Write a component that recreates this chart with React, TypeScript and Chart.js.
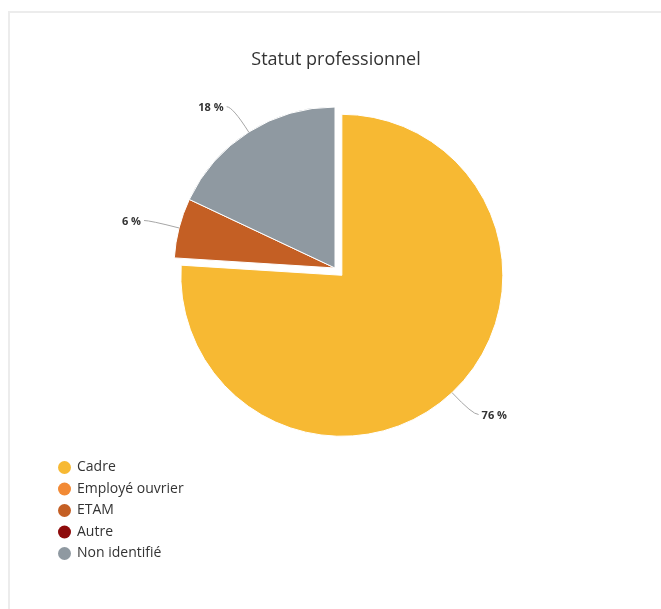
import { useEffect, useRef } from 'react';
import { Chart, registerables } from 'chart.js';

Chart.register(...registerables);

const TITLE = 'Statut professionnel';
const categories = ['Cadre', 'Employé ouvrier', 'ETAM', 'Autre', 'Non identifié'];
const shares = [76, 0, 6, 0, 18];
const sliceColors = ['#F7B933', '#F28A35', '#C45F24', '#8E0B0B', '#8F99A1'];
const slicedOut = [true, false, false, false, false];

const FONT = '"Open Sans", "Noto Sans", sans-serif';
const SLICE_SHIFT = 10;
const LABEL_DISTANCE = 30;
const PIE_RADIUS = 161;

const piePlugin = {
  id: 'hcPie',
  afterUpdate(chart: any) {
    const meta = chart.getDatasetMeta(0);
    meta.data.forEach((el: any, i: number) => {
      if (!slicedOut[i] || el.__shifted) return;
      const orig = el.draw.bind(el);
      el.draw = (ctx: CanvasRenderingContext2D, area: any) => {
        const mid = (el.startAngle + el.endAngle) / 2;
        ctx.save();
        ctx.translate(Math.cos(mid) * SLICE_SHIFT, Math.sin(mid) * SLICE_SHIFT);
        orig(ctx, area);
        ctx.restore();
      };
      el.__shifted = true;
    });
  },
  afterDraw(chart: any) {
    const ctx: CanvasRenderingContext2D = chart.ctx;
    ctx.save();

    // Title
    ctx.fillStyle = '#333333';
    ctx.font = `18px ${FONT}`;
    ctx.textAlign = 'center';
    ctx.textBaseline = 'middle';
    ctx.fillText(TITLE, 336, 60);

    // Data labels with connectors
    const meta = chart.getDatasetMeta(0);
    meta.data.forEach((el: any, i: number) => {
      const v = shares[i];
      if (!v) return;
      const mid = (el.startAngle + el.endAngle) / 2;
      const dx = Math.cos(mid);
      const dy = Math.sin(mid);
      const shift = slicedOut[i] ? SLICE_SHIFT : 0;
      const cx = el.x + dx * shift;
      const cy = el.y + dy * shift;
      const r = el.outerRadius;
      const ex = cx + dx * r;
      const ey = cy + dy * r;
      const ax = cx + dx * (r + LABEL_DISTANCE);
      const ay = cy + dy * (r + LABEL_DISTANCE);
      const left = dx < 0;
      const endX = left ? ax - 6 : ax + 6;
      ctx.strokeStyle = '#a6a6a6';
      ctx.lineWidth = 1;
      ctx.beginPath();
      ctx.moveTo(ex, ey);
      ctx.quadraticCurveTo(ax, ay, endX, ay);
      ctx.stroke();
      ctx.fillStyle = '#333333';
      ctx.font = `bold 11px ${FONT}`;
      ctx.textAlign = left ? 'right' : 'left';
      ctx.textBaseline = 'middle';
      ctx.fillText(`${v} %`, left ? endX - 3 : endX + 3, ay + 1);
    });

    // Legend
    const startY = 467.5;
    const step = 21.5;
    categories.forEach((name, i) => {
      const y = startY + i * step;
      ctx.fillStyle = sliceColors[i];
      ctx.beginPath();
      ctx.arc(64.5, y, 6.5, 0, Math.PI * 2);
      ctx.fill();
      ctx.fillStyle = '#333333';
      ctx.font = `14px ${FONT}`;
      ctx.textAlign = 'left';
      ctx.textBaseline = 'middle';
      ctx.fillText(name, 77, y);
    });
    ctx.restore();
  },
};

export default function App() {
  const canvasRef = useRef<HTMLCanvasElement | null>(null);

  useEffect(() => {
    if (!canvasRef.current) return;
    const chart = new Chart(canvasRef.current, {
      type: 'pie',
      data: {
        labels: categories,
        datasets: [
          {
            data: shares,
            backgroundColor: sliceColors,
            borderColor: '#ffffff',
            borderWidth: 1,
          },
        ],
      },
      options: {
        responsive: false,
        animation: false,
        radius: PIE_RADIUS,
        layout: { padding: { left: 9, right: 0, top: 0, bottom: 73 } },
        plugins: {
          legend: { display: false },
          title: { display: false },
          tooltip: { enabled: false },
        },
        events: [],
      } as any,
      plugins: [piePlugin],
    });
    return () => chart.destroy();
  }, []);

  return (
    <div style={{ position: 'fixed', left: 0, top: 0, width: 661, height: 609, background: '#ffffff' }}>
      <div
        style={{
          position: 'absolute',
          left: 8,
          top: 11,
          width: 652,
          height: 620,
          borderTop: '2px solid #ececec',
          borderLeft: '2px solid #ececec',
        }}
      />
      <canvas
        ref={canvasRef}
        width={661}
        height={609}
        style={{ position: 'absolute', left: 0, top: 0, width: 661, height: 609 }}
      />
    </div>
  );
}
